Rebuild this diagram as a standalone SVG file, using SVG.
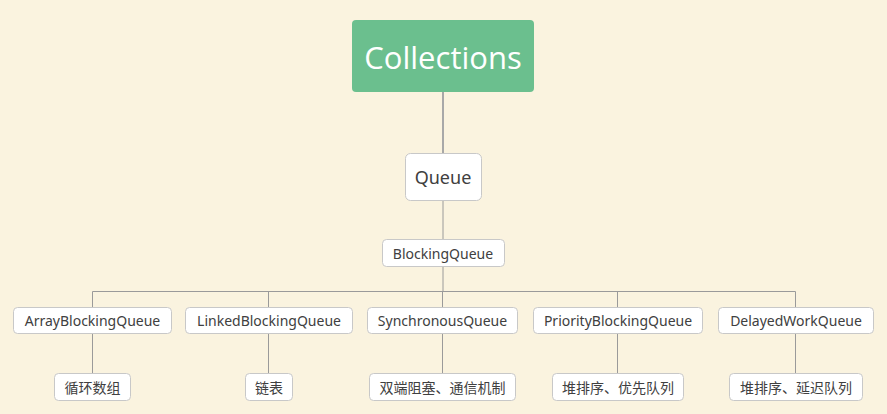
<svg xmlns="http://www.w3.org/2000/svg" width="887" height="414" viewBox="0 0 887 414">
<style>
.n rect{fill:#fff;stroke:#c8c8c8;stroke-width:1}
.n text{font-family:"Noto Sans","Noto Sans CJK SC",sans-serif;font-size:14px;fill:#404040;text-anchor:middle;dominant-baseline:central}
.c{stroke:#9a9a9a;stroke-width:1;fill:none}
</style>
<rect width="887" height="414" fill="#faf3df"/>
<g id="connectors">
<line class="c" x1="443" y1="92" x2="443" y2="153" style="stroke-width:2;stroke:#a8a8a8"/>
<line class="c" x1="443" y1="200" x2="443" y2="239"/>
<line class="c" x1="443" y1="266" x2="443" y2="291"/>
<polyline class="c" points="92.5,307 92.5,291.5 795.5,291.5 795.5,307"/>
<line class="c" x1="268.5" y1="291" x2="268.5" y2="307"/>
<line class="c" x1="617.5" y1="291" x2="617.5" y2="307"/>
<line class="c" x1="442.5" y1="291" x2="442.5" y2="307"/>
<line class="c" x1="92.5" y1="333" x2="92.5" y2="373"/>
<line class="c" x1="268.5" y1="333" x2="268.5" y2="373"/>
<line class="c" x1="442.5" y1="333" x2="442.5" y2="373"/>
<line class="c" x1="617.5" y1="333" x2="617.5" y2="373"/>
<line class="c" x1="795.5" y1="333" x2="795.5" y2="373"/>
</g>
<g id="collections"><rect x="352" y="20" width="182" height="72" rx="4" fill="#6bbf8e"/><text x="443" y="57" font-family="Open Sans,Noto Sans,sans-serif" font-size="31" fill="#fff" text-anchor="middle" dominant-baseline="central">Collections</text></g>
<g id="queue" class="n"><rect x="405.5" y="153.5" width="76" height="47" rx="5"/><text x="443" y="177" style="font-size:18px">Queue</text></g>
<g id="blockingqueue" class="n"><rect x="382.5" y="239.5" width="122" height="27" rx="4"/><text x="443" y="253">BlockingQueue</text></g>
<g id="arrayblockingqueue" class="n"><rect x="13.5" y="307.5" width="158" height="26" rx="4"/><text x="92.5" y="320.5">ArrayBlockingQueue</text></g>
<g id="linkedblockingqueue" class="n"><rect x="185.5" y="307.5" width="167" height="26" rx="4"/><text x="269" y="320.5">LinkedBlockingQueue</text></g>
<g id="synchronousqueue" class="n"><rect x="367.5" y="307.5" width="150" height="26" rx="4"/><text x="442.5" y="320.5">SynchronousQueue</text></g>
<g id="priorityblockingqueue" class="n"><rect x="533.5" y="307.5" width="169" height="26" rx="4"/><text x="618" y="320.5">PriorityBlockingQueue</text></g>
<g id="delayedworkqueue" class="n"><rect x="718.5" y="307.5" width="155" height="26" rx="4"/><text x="796" y="320.5">DelayedWorkQueue</text></g>
<g id="xunhuan" class="n"><rect x="54.5" y="373.5" width="76" height="27" rx="4"/><text x="92.5" y="387">循环数组</text></g>
<g id="lianbiao" class="n"><rect x="245.5" y="373.5" width="47" height="27" rx="4"/><text x="269" y="387">链表</text></g>
<g id="shuangduan" class="n"><rect x="369.5" y="373.5" width="146" height="27" rx="4"/><text x="442.5" y="387">双端阻塞、通信机制</text></g>
<g id="youxian" class="n"><rect x="552.5" y="373.5" width="131" height="27" rx="4"/><text x="618" y="387">堆排序、优先队列</text></g>
<g id="yanchi" class="n"><rect x="729.5" y="373.5" width="133" height="27" rx="4"/><text x="796" y="387">堆排序、延迟队列</text></g>
</svg>
